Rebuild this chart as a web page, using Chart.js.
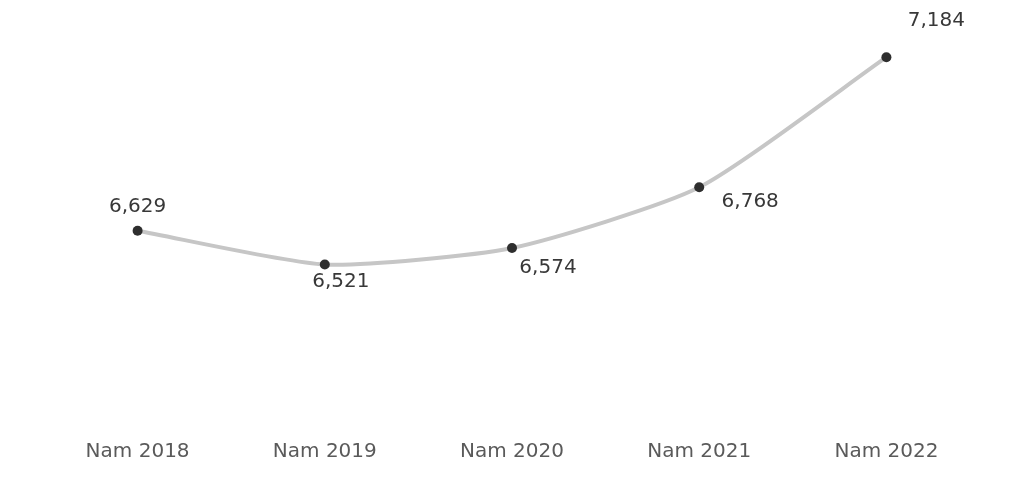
<!DOCTYPE html>
<html>
<head>
<meta charset="utf-8">
<script src="https://cdn.jsdelivr.net/npm/chart.js@4"></script>
<style>
  html, body { margin: 0; padding: 0; background: #fff; }
  #wrap { width: 1012px; height: 480px; position: relative; }
</style>
</head>
<body>
<div id="wrap"><canvas id="chart"></canvas></div>
<script>
const years = ['Nam 2018', 'Nam 2019', 'Nam 2020', 'Nam 2021', 'Nam 2022']
const values = [6.629, 6.521, 6.574, 6.768, 7.184]
const valueLabels = ['6,629', '6,521', '6,574', '6,768', '7,184']

// where each value label sits relative to its point (px)
const labelOffsets = [
  { dx: 0, dy: -24 },
  { dx: 16, dy: 17 },
  { dx: 36, dy: 20 },
  { dx: 51, dy: 15 },
  { dx: 50, dy: -36 },
]

const FONT = '"DejaVu Sans", Verdana, sans-serif'

const valueLabelPlugin = {
  id: 'valueLabels',
  afterDatasetsDraw(chart) {
    const ctx = chart.ctx
    const meta = chart.getDatasetMeta(0)
    ctx.save()
    ctx.font = '20px ' + FONT
    ctx.fillStyle = '#383838'
    ctx.textAlign = 'center'
    ctx.textBaseline = 'middle'
    meta.data.forEach((pt, i) => {
      const off = labelOffsets[i]
      ctx.fillText(valueLabels[i], pt.x + off.dx, pt.y + off.dy)
    })
    ctx.restore()
  },
}

new Chart(document.getElementById('chart').getContext('2d'), {
  type: 'line',
  data: {
    labels: years,
    datasets: [
      {
        data: values,
        borderColor: '#c6c6c6',
        borderWidth: 4,
        tension: 0.2,
        fill: false,
        pointRadius: 5,
        pointHoverRadius: 5,
        pointBackgroundColor: '#2e2e2e',
        pointBorderColor: '#2e2e2e',
        pointBorderWidth: 0,
      },
    ],
  },
  options: {
    responsive: true,
    maintainAspectRatio: false,
    animation: false,
    layout: {
      padding: { top: 20, bottom: 13, left: 44, right: 32 },
    },
    scales: {
      x: {
        offset: true,
        grid: { display: false },
        border: { display: false },
        ticks: {
          color: '#5a5a5a',
          font: { size: 20, family: FONT },
        },
      },
      y: {
        display: false,
        min: 5.995,
        max: 7.303,
      },
    },
    plugins: {
      legend: { display: false },
      tooltip: { enabled: false },
    },
  },
  plugins: [valueLabelPlugin],
})
</script>
</body>
</html>
